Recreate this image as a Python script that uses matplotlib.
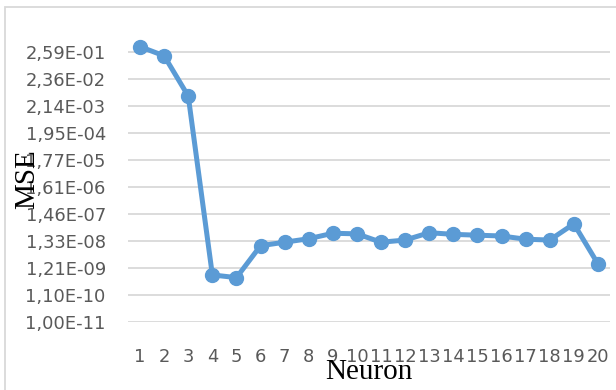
import matplotlib
matplotlib.use("Agg")
import matplotlib.pyplot as plt
from matplotlib.patches import Rectangle
from matplotlib.ticker import FixedLocator, FuncFormatter, NullLocator

BLUE, GRID, LABEL = "#5B9BD5", "#D9D9D9", "#595959"

# MSE per number of hidden neurons
neurons = list(range(1, 21))
mse = [3.99e-1, 1.77e-1, 4.97e-3, 6.49e-10, 5.11e-10, 8.65e-9, 1.18e-8, 1.61e-8,
       2.61e-8, 2.48e-8, 1.18e-8, 1.43e-8, 2.74e-8, 2.37e-8, 2.20e-8, 2.05e-8,
       1.54e-8, 1.43e-8, 6.03e-8, 1.73e-9]

# axis steps by a factor of 11, starting at 1e-11
y_base = 1e-11
y_steps = 11
yticks = [y_base * 11 ** i for i in range(y_steps)]


def sci_comma(v, _pos=None):
    return f"{v:.2E}".replace(".", ",")


fig = plt.figure(figsize=(6.16, 3.90), dpi=100)
ax = fig.add_axes([128 / 616, 68 / 390, 482 / 616, 284 / 390])

ax.plot(neurons, mse, color=BLUE, lw=3.6, marker="o", ms=10, zorder=3)

ax.set_yscale("log", base=11)
ax.set_ylim(y_base, y_base * 11 ** 10.5)
ax.yaxis.set_major_locator(FixedLocator(yticks))
ax.yaxis.set_major_formatter(FuncFormatter(sci_comma))
ax.yaxis.set_minor_locator(NullLocator())
ax.set_xlim(0.5, 20.5)
ax.set_xticks(neurons)
ax.set_xticklabels([str(n) for n in neurons])

ax.grid(axis="y", color=GRID, lw=1.3)
for s in ax.spines.values():
    s.set_visible(False)
ax.tick_params(axis="both", length=0, labelsize=12.9, labelcolor=LABEL)
ax.tick_params(axis="y", pad=16)
ax.tick_params(axis="x", pad=19)

ax.set_xlabel("Neuron", fontfamily="Liberation Serif", fontsize=21, labelpad=-5)
fig.text(27 / 616, 1 - 179 / 390, "MSE", rotation=90, ha="center", va="center",
         fontfamily="Liberation Serif", fontsize=21)

# chart border, only left and top edges fall inside the image
fig.patches.append(Rectangle((5 / 616, -0.2), 1.2, 1.2 - 7 / 390,
                             transform=fig.transFigure, fill=False,
                             edgecolor=GRID, lw=1.3))

fig.savefig("out.png", dpi=100)
